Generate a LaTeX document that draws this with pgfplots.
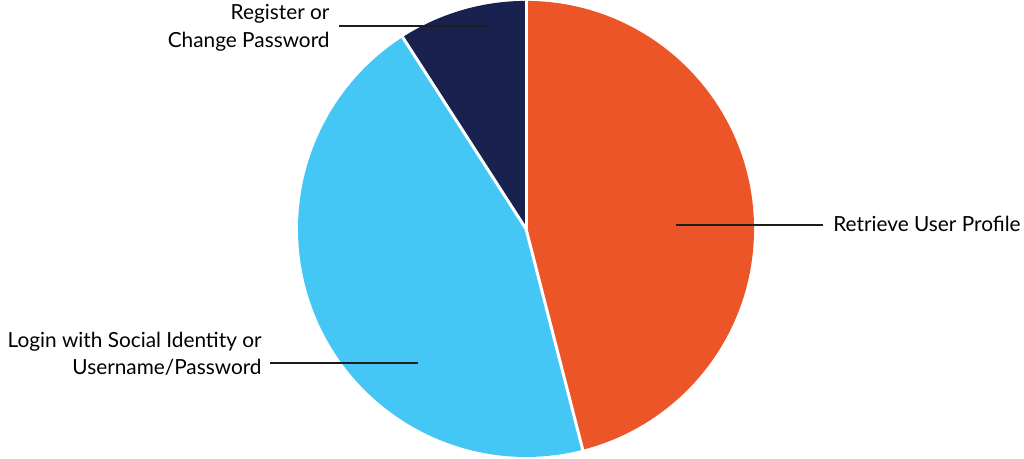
\documentclass[border=0pt]{standalone}
\usepackage{pgfplots}
\pgfplotsset{compat=1.18}
\usepackage{fontspec}
\setmainfont{Lato}
\definecolor{cOrange}{HTML}{EB5527}
\definecolor{cBlue}{HTML}{45C7F5}
\definecolor{cNavy}{HTML}{19214E}
\definecolor{cLine}{HTML}{1E1E1E}
% slice shares (percent), clockwise from the top
\def\vA{46.0} % Retrieve User Profile
\def\vB{44.9} % Login with Social Identity or Username/Password
\def\vC{9.1}  % Register or Change Password
\begin{document}
\begin{tikzpicture}
\fontsize{10.4}{14}\selectfont
\begin{axis}[hide axis, x=114pt, y=114pt,
  xmin=-2.307, xmax=2.184, ymin=-1.009, ymax=1.004, clip=false]
\coordinate (bl) at (axis cs:-2.307,-1.009);
\coordinate (tr) at (axis cs:2.184,1.004);
\pgfmathsetmacro{\aA}{90-3.6*\vA}
\pgfmathsetmacro{\aB}{\aA-3.6*\vB}
\pgfmathsetmacro{\aC}{\aB-3.6*\vC}
\fill[cOrange] (axis cs:0,0) -- ++(90:114pt) arc[start angle=90, end angle=\aA, radius=114pt] -- cycle;
\fill[cBlue] (axis cs:0,0) -- ++(\aA:114pt) arc[start angle=\aA, end angle=\aB, radius=114pt] -- cycle;
\fill[cNavy] (axis cs:0,0) -- ++(\aB:114pt) arc[start angle=\aB, end angle=\aC, radius=114pt] -- cycle;
\draw[white, line width=1.5pt] (axis cs:0,0) -- ++(90:115pt);
\draw[white, line width=1.5pt] (axis cs:0,0) -- ++(\aA:115pt);
\draw[white, line width=1.5pt] (axis cs:0,0) -- ++(\aB:115pt);
% leader lines
\draw[cLine, line width=0.9pt] (axis cs:-0.820,0.890) -- (axis cs:-0.167,0.890);
\draw[cLine, line width=0.9pt] (axis cs:0.658,0.018) -- (axis cs:1.303,0.018);
\draw[cLine, line width=0.9pt] (axis cs:-1.123,-0.588) -- (axis cs:-0.474,-0.588);
% labels
\node[anchor=base east, inner sep=0pt] at (axis cs:-0.860,0.917) {Register or};
\node[anchor=base east, inner sep=0pt] at (axis cs:-0.860,0.794) {Change Password};
\node[anchor=base west, inner sep=0pt] at (axis cs:1.346,-0.013) {Retrieve User Profile};
\node[anchor=base east, inner sep=0pt] at (axis cs:-1.158,-0.522) {Login with Social Identity or};
\node[anchor=base east, inner sep=0pt] at (axis cs:-1.158,-0.640) {Username/Password};
\end{axis}
\pgfresetboundingbox
\useasboundingbox (bl) rectangle (tr);
\end{tikzpicture}
\end{document}
